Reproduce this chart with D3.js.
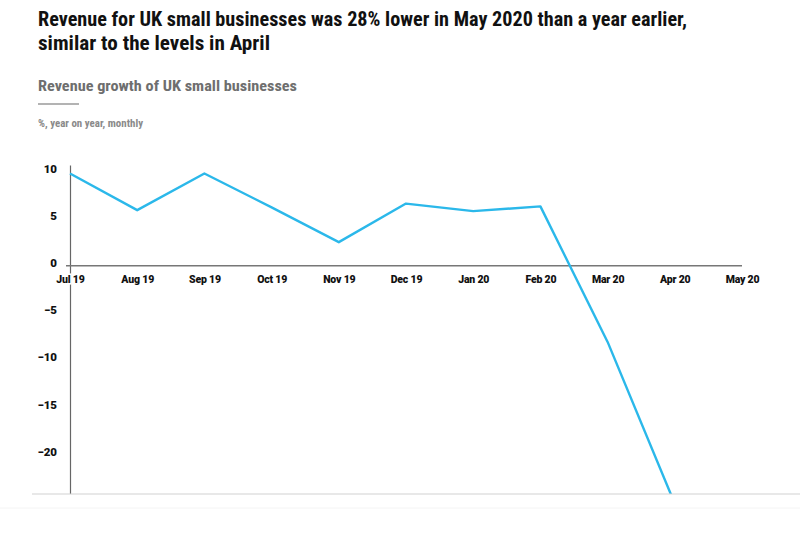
<!DOCTYPE html>
<html><head><meta charset="utf-8">
<script src="https://cdn.jsdelivr.net/npm/d3@7"></script>
<style>
html,body{margin:0;padding:0;background:#fff;}
svg{display:block;}
</style></head>
<body>
<svg id="chart" width="800" height="556"></svg>
<script>
const months = ["Jul 19","Aug 19","Sep 19","Oct 19","Nov 19","Dec 19","Jan 20","Feb 20","Mar 20","Apr 20","May 20"];
const growth = [9.8, 5.9, 9.8, 6.2, 2.5, 6.6, 5.8, 6.3, -8.1, -25.3, -28];
const yTicks = [10, 5, 0, -5, -10, -15, -20, -25];
const titleLines = ["Revenue for UK small businesses was 28% lower in May 2020 than a year earlier,", "similar to the levels in April"];
const subtitle = "Revenue growth of UK small businesses";
const unitNote = "%, year on year, monthly";

const svg = d3.select("#chart");
const condensed = "'Liberation Sans Narrow','Roboto Condensed','Arial Narrow',Roboto,sans-serif";
const body = "Roboto,'Open Sans',Arial,sans-serif";

// Title
svg.append("text").attr("x", 38).attr("y", 26)
  .attr("font-family", condensed).attr("font-weight", 700).attr("font-size", 20.5)
  .attr("fill", "#111").text(titleLines[0])
  .attr("textLength", 649).attr("lengthAdjust", "spacingAndGlyphs");
svg.append("text").attr("x", 38).attr("y", 50)
  .attr("font-family", condensed).attr("font-weight", 700).attr("font-size", 20.5)
  .attr("fill", "#111").text(titleLines[1])
  .attr("textLength", 232).attr("lengthAdjust", "spacingAndGlyphs");

svg.append("text").attr("x", 38).attr("y", 91)
  .attr("font-family", condensed).attr("font-weight", 700).attr("font-size", 15.5)
  .attr("fill", "#6e6e6e").text(subtitle)
  .attr("textLength", 259).attr("lengthAdjust", "spacingAndGlyphs");
svg.append("line").attr("x1", 38).attr("x2", 79).attr("y1", 104).attr("y2", 104)
  .attr("stroke", "#9a9a9a").attr("stroke-width", 1.5);
svg.append("text").attr("x", 38).attr("y", 127)
  .attr("font-family", condensed).attr("font-weight", 700).attr("font-size", 10.5)
  .attr("fill", "#8a8a8a").text(unitNote)
  .attr("textLength", 105).attr("lengthAdjust", "spacingAndGlyphs");

// Scales
const x = d3.scalePoint().domain(months).range([70, 742]);
const y = d3.scaleLinear().domain([-30, 10.7]).range([548, 165]);

// Y axis
const yAxis = svg.append("g").attr("transform", "translate(70,0)")
  .call(d3.axisLeft(y).tickValues(yTicks).tickSize(0).tickPadding(13).tickFormat(d3.format("d")));
yAxis.select(".domain").attr("stroke", "#666").attr("stroke-width", 1.2);
yAxis.selectAll("text").attr("font-family", body).attr("font-weight", 900)
  .attr("font-size", 11.5).attr("fill", "#111").attr("dy", "0.1em");

// Zero line
svg.append("line").attr("x1", 66).attr("x2", x("May 20")).attr("y1", y(0)).attr("y2", y(0))
  .attr("stroke", "#777").attr("stroke-width", 1.5);

// X axis labels (white halo hides the y axis behind them)
const xAxis = svg.append("g").attr("transform", `translate(0,${y(0)})`)
  .call(d3.axisBottom(x).tickSize(0).tickPadding(10));
xAxis.select(".domain").remove();
xAxis.selectAll("text").attr("font-family", body).attr("font-weight", 900)
  .attr("font-size", 10.5).attr("fill", "#111").attr("letter-spacing", "-0.2px")
  .attr("stroke", "#fff").attr("stroke-width", 3).attr("paint-order", "stroke");

// Line
const line = d3.line().x((d, i) => x(months[i])).y(d => y(d));
svg.append("path").datum(growth).attr("d", line)
  .attr("fill", "none").attr("stroke", "#2bb8ea").attr("stroke-width", 2.4)
  .attr("stroke-linejoin", "round");

// Cropped bottom of the reference image
svg.append("rect").attr("x", 0).attr("y", 494).attr("width", 800).attr("height", 62).attr("fill", "#fff");
svg.append("line").attr("x1", 32).attr("x2", 800).attr("y1", 494).attr("y2", 494)
  .attr("stroke", "#d2d2d2").attr("stroke-width", 1.2);
svg.append("line").attr("x1", 0).attr("x2", 800).attr("y1", 508).attr("y2", 508)
  .attr("stroke", "#f4f4f4").attr("stroke-width", 1);
</script>
</body></html>
